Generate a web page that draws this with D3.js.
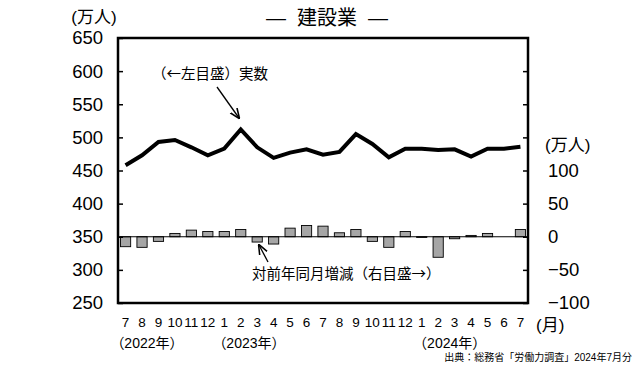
<!DOCTYPE html>
<html>
<head>
<meta charset="utf-8">
<script src="https://cdn.jsdelivr.net/npm/d3@7"></script>
<style>
  body { margin: 0; background: #fff; }
  text { font-family: "Liberation Sans", Arial, "Noto Sans CJK JP", sans-serif; fill: #000; }
  text.jp { font-family: "Noto Sans CJK JP", sans-serif; }
</style>
</head>
<body>
<div id="chart"></div>
<script>
(function () {
    // --- Datos ---
    const months = ["7","8","9","10","11","12","1","2","3","4","5","6","7","8","9","10","11","12","1","2","3","4","5","6","7"];
    const actual = [458, 473, 493, 496, 485, 473, 483, 512, 485, 469, 477, 482, 474, 478, 505, 490, 470, 483, 483, 481, 482, 471, 483, 483, 486];
    const yoy = [-15, -16, -7, 5, 10, 8, 8, 11, -8, -11, 13, 17, 16, 6, 11, -7, -16, 8, -1, -31, -3, 2, 5, 0, 11];
    const leftTicks = [250, 300, 350, 400, 450, 500, 550, 600, 650];
    const rightTicks = [-100, -50, 0, 50, 100];
    const years = [{ idx: 1.3, label: "（2022年）" }, { idx: 7.5, label: "（2023年）" }, { idx: 19.7, label: "（2024年）" }];

    const W = 640, H = 366;
    const margin = { top: 38, right: 112, bottom: 63, left: 118 };
    const iw = W - margin.left - margin.right, ih = H - margin.top - margin.bottom;

    const svg = d3.select("#chart").append("svg").attr("width", W).attr("height", H);

    const x = d3.scaleBand().domain(d3.range(months.length)).range([margin.left, margin.left + iw])
        .paddingInner(0.38).paddingOuter(0.15);
    const yL = d3.scaleLinear().domain([250, 650]).range([margin.top + ih, margin.top]);
    const yR = d3.scaleLinear().domain([-100, 300]).range([margin.top + ih, margin.top]);
    const cx = i => x(0) + i * x.step() + x.bandwidth() / 2;

    // título
    svg.append("text").attr("x", 327).attr("y", 25).attr("text-anchor", "middle")
        .style("font-size", "20px").attr("xml:space", "preserve").text("—  建設業  —");

    // barras
    svg.append("g").selectAll("rect").data(yoy).join("rect")
        .attr("x", (d, i) => x(i))
        .attr("width", x.bandwidth())
        .attr("y", d => yR(Math.max(0, d)))
        .attr("height", d => Math.abs(yR(d) - yR(0)))
        .attr("fill", "#a6a6a6").attr("stroke", "#000").attr("stroke-width", 0.9);

    svg.append("line").attr("x1", margin.left).attr("x2", margin.left + iw)
        .attr("y1", yR(0)).attr("y2", yR(0)).attr("stroke", "#000").attr("stroke-width", 1.2);

    // línea
    svg.append("path").datum(actual)
        .attr("fill", "none").attr("stroke", "#000").attr("stroke-width", 4).attr("stroke-linejoin", "miter")
        .attr("d", d3.line().x((d, i) => cx(i)).y(d => yL(d)));

    // ejes
    const axL = svg.append("g").attr("transform", `translate(${margin.left},0)`)
        .call(d3.axisLeft(yL).tickValues(leftTicks).tickSize(-5).tickPadding(15));
    const axR = svg.append("g").attr("transform", `translate(${margin.left + iw},0)`)
        .call(d3.axisRight(yR).tickValues(rightTicks.concat([150, 200, 250])).tickSize(-5).tickPadding(20)
            .tickFormat(d => d > 100 ? "" : (d < 0 ? "−" + Math.abs(d) : d)));
    [axL, axR].forEach(a => {
        a.select(".domain").remove();
        a.selectAll("line").attr("stroke-width", 1.5);
        a.selectAll("text").style("font-size", "18.5px");
    });

    // marco
    svg.append("rect").attr("x", margin.left).attr("y", margin.top).attr("width", iw).attr("height", ih)
        .attr("fill", "none").attr("stroke", "#000").attr("stroke-width", 2.5);

    // etiquetas de meses
    svg.append("g").selectAll("text").data(months).join("text")
        .attr("x", (d, i) => cx(i)).attr("y", 327).attr("text-anchor", "middle")
        .style("font-size", "13.5px").text(d => d);
    svg.append("text").attr("x", 536).attr("y", 331).style("font-size", "17px").text("(月)");

    svg.append("g").selectAll("text").data(years).join("text")
        .attr("x", d => cx(d.idx)).attr("y", 348).attr("text-anchor", "middle")
        .style("font-size", "14px").text(d => d.label);

    // unidades
    svg.append("text").attr("x", 94).attr("y", 23).attr("text-anchor", "middle").style("font-size", "17px").text("(万人)");
    svg.append("text").attr("x", 545).attr("y", 151).style("font-size", "17px").text("(万人)");

    // anotaciones
    const defs = svg.append("defs");
    defs.append("marker").attr("id", "ah").attr("viewBox", "0 0 10 10").attr("refX", 9).attr("refY", 5)
        .attr("markerWidth", 8).attr("markerHeight", 8).attr("orient", "auto")
        .append("path").attr("d", "M0,1 L10,5 L0,9").attr("fill", "none").attr("stroke", "#000").attr("stroke-width", 1.5);

    svg.append("text").attr("class", "jp").attr("x", 152).attr("y", 79).style("font-size", "14.5px").text("（←左目盛）実数");
    svg.append("line").attr("x1", 217).attr("y1", 87).attr("x2", 239).attr("y2", 118)
        .attr("stroke", "#000").attr("stroke-width", 1.3).attr("marker-end", "url(#ah)");

    svg.append("text").attr("class", "jp").attr("x", 252).attr("y", 279).style("font-size", "14.5px").text("対前年同月増減（右目盛→）");
    svg.append("line").attr("x1", 268).attr("y1", 262).attr("x2", 259).attr("y2", 245)
        .attr("stroke", "#000").attr("stroke-width", 1.3).attr("marker-end", "url(#ah)");

    svg.append("text").attr("x", 632).attr("y", 361).attr("text-anchor", "end")
        .style("font-size", "10px").text("出典：総務省「労働力調査」2024年7月分");
})();
</script>
</body>
</html>
